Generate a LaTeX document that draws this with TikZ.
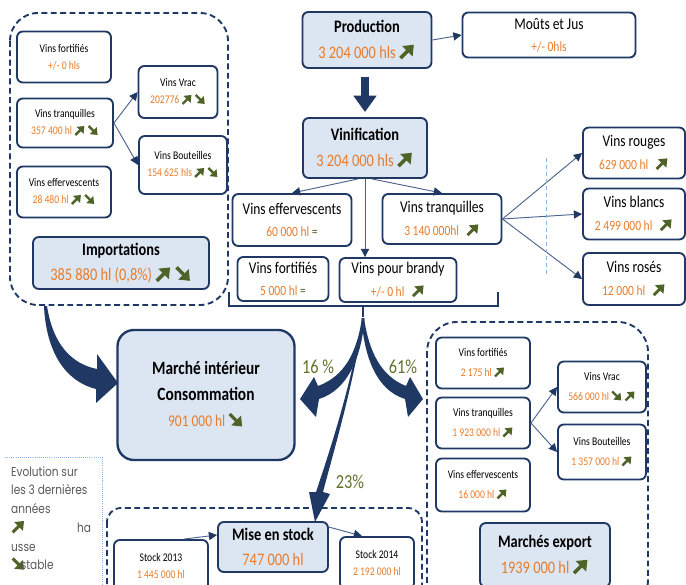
\documentclass[tikz,border=0pt]{standalone}
\usepackage{fontspec}
\setmainfont{Carlito}[FakeStretch=0.82]
\newfontfamily\legendfont{Poppins}[FakeStretch=0.82]
\usetikzlibrary{arrows.meta}
\definecolor{navy}{RGB}{31,56,100}
\definecolor{paleblue}{RGB}{220,230,242}
\definecolor{volorange}{RGB}{232,124,42}
\definecolor{upgreen}{RGB}{79,98,40}
\definecolor{pctgreen}{RGB}{95,115,45}
\definecolor{linkblue}{RGB}{75,100,140}
\definecolor{dotblue}{RGB}{140,180,225}
\definecolor{legendgray}{RGB}{89,89,89}
\newlength{\pxunit}\setlength{\pxunit}{0.03cm}
\newcommand{\vol}[1]{\textcolor{volorange}{#1}}
\newcommand{\hausse}{\tikz[baseline=0pt]\draw[upgreen, line width=0.42ex, -{Triangle[length=1.1ex,width=1.7ex]}] (0,0) -- (1.6ex,1.6ex);}
\newcommand{\baisse}{\tikz[baseline=0pt]\draw[upgreen, line width=0.42ex, -{Triangle[length=1.1ex,width=1.7ex]}] (0,1.6ex) -- (1.6ex,0);}
\newcommand{\egal}{\textcolor{upgreen}{=}}
\newcommand{\petit}{\fontsize{12}{14}\selectfont}

\begin{document}
\begin{tikzpicture}[x=0.03cm, y=-0.03cm,
    box/.style={draw=navy, line width=1.6pt, rounded corners=5pt, fill=white, align=center, inner sep=0pt},
    keybox/.style={box, fill=paleblue},
    dims/.style 2 args={minimum width=#1\pxunit, minimum height=#2\pxunit},
    small/.style={font=\fontsize{10}{14.5}\selectfont},
    mid/.style={font=\fontsize{14}{19}\selectfont},
    big/.style={font=\fontsize{15}{22}\selectfont},
    link/.style={draw=linkblue, line width=0.8pt, -{Triangle[length=7pt,width=7pt,color=navy]}},
    zone/.style={draw=navy, line width=1.6pt, dash pattern=on 5pt off 3pt},
    pct/.style={text=pctgreen, font=\fontsize{17}{17}\selectfont}]
  \useasboundingbox (0,0) rectangle (686,585);

  % importations
  \draw[zone, rounded corners=28\pxunit] (10,13) rectangle (228,305);
  \node[box, small, dims={94}{51}] (lfort) at (64,57) {Vins fortifiés\\\vol{+/- 0 hls}};
  \node[box, small, dims={96}{49}] (ltranq) at (65,123) {Vins tranquilles\\\vol{357 400 hl} \hausse\,\baisse};
  \node[box, small, dims={94}{51}] (leff) at (64,192) {Vins effervescents\\\vol{28 480 hl} \hausse\,\baisse};
  \node[box, small, dims={79}{52}] (lvrac) at (178,92) {Vins Vrac\\\vol{202776}\,\hausse\,\baisse};
  \node[box, small, dims={88}{58}] (lbout) at (183,165) {Vins Bouteilles\\\vol{154 625 hls}\,\hausse\,\baisse};
  \node[keybox, big, dims={176}{52}] (import) at (121,263) {\textbf{Importations}\\\vol{385 880 hl (0,8\%)}\,\hausse\,\baisse};
  \draw[link] (ltranq.east) -- (lvrac.west);
  \draw[link] (ltranq.east) -- (lbout.west);

  % production, vinification
  \node[keybox, big, dims={129}{56}] (prod) at (367,40) {\textbf{Production}\\\vol{3 204 000 hls}\,\hausse};
  \node[box, mid, dims={173}{45}] (mouts) at (549,35) {Moûts et Jus\\{\petit\vol{+/- 0hls}}};
  \draw[link] (prod.east) -- (mouts.west);
  \node[keybox, big, dims={124}{60}] (vinif) at (365,148) {\textbf{Vinification}\\\vol{3 204 000 hls}\,\hausse};
  \draw[navy, line width=7pt, -{Triangle[length=14pt,width=19pt]}] ([shift={(-2,8)}]prod.south) -- ([shift={(0,-5)}]vinif.north);

  \node[box, mid, dims={119}{52}] (effmid) at (292,220) {Vins effervescents\\{\petit\vol{60 000 hl} \egal}};
  \node[box, mid, dims={119}{50}] (tranqmid) at (442,219) {Vins tranquilles\\{\petit\vol{3 140 000hl}\enspace\hausse}};
  \node[box, mid, dims={91}{44}] (fortmid) at (283,279) {Vins fortifiés\\{\petit\vol{5 000 hl} \egal}};
  \node[box, mid, dims={117}{44}] (brandy) at (398,280) {Vins pour brandy\\{\petit\vol{+/- 0 hl}\enspace\hausse}};
  \draw[link] ([shift={(-7,0)}]vinif.south) -- (effmid.north);
  \draw[link] ([shift={(7,0)}]vinif.south) -- (tranqmid.north);
  \draw[link] (vinif.south) -- (vinif.south |- brandy.north);

  \node[box, mid, dims={102}{51}] (rouges) at (634,153) {Vins rouges\\{\petit\vol{629 000 hl}\enspace\hausse}};
  \node[box, mid, dims={102}{51}] (blancs) at (634,214) {Vins blancs\\{\petit\vol{2 499 000 hl}\enspace\hausse}};
  \node[box, mid, dims={102}{52}] (roses) at (634,279) {Vins rosés\\{\petit\vol{12 000 hl}\enspace\hausse}};
  \draw[link] (tranqmid.east) -- (rouges.west);
  \draw[link] (tranqmid.east) -- (blancs.west);
  \draw[link] (tranqmid.east) -- (roses.west);
  \draw[dotblue, dashed, line width=0.6pt] (546,158) -- (546,274);

  % split
  \coordinate (brk) at (363,306);
  \coordinate (split) at (363,317);
  \draw[navy, line width=1pt] (229,292) |- (brk) -| (498,292);
  \draw[navy, line width=1pt] (brk) -- (split);

  % marche interieur
  \node[keybox, dims={177}{130}, rounded corners=14pt, line width=2pt, font=\fontsize{16}{22}\selectfont] (inner) at (206,395)
    {\textbf{Marché intérieur}\\\textbf{Consommation}\\{\fontsize{14}{14}\selectfont\vol{901 000 hl}\,\baisse}};
  \fill[navy] (47,306) .. controls (53,345) and (72,364) .. (97,369) -- (97,354) -- (118,383) -- (96,403)
    -- (96,389) .. controls (64,381) and (46,350) .. (44,306) -- cycle;
  \fill[navy] (362,318) .. controls (357,352) and (345,376) .. (318,386) -- (314,377) -- (300,399) -- (316,417)
    -- (319,399) .. controls (348,390) and (362,356) .. (364.5,318) -- cycle;
  \fill[navy] (364,318) .. controls (369,352) and (381,376) .. (406,386) -- (410,377) -- (423,399) -- (408,417)
    -- (405,399) .. controls (376,390) and (364,356) .. (361.5,318) -- cycle;
  \fill[navy] (362.5,318) .. controls (350,390) and (330,450) .. (316,492) -- (309,492) -- (315,522) -- (330,494)
    -- (323,492) .. controls (334,450) and (352,390) .. (364,318) -- cycle;
  \node[pct] (p16) at (318,367) {16 \%};
  \node[pct] (p61) at (403,367) {61\%};
  \node[pct] (p23) at (350,482) {23\%};

  % stock
  \draw[zone, rounded corners=14\pxunit] (107,508) rectangle (422,610);
  \node[box, small, dims={94}{52}] (stock13) at (161,566) {Stock 2013\\\vol{1 445 000 hl}};
  \node[keybox, big, dims={110}{50}] (mise) at (273,547) {\textbf{Mise en stock}\\\vol{747 000 hl}};
  \node[box, small, dims={74}{52}] (stock14) at (377,563) {Stock 2014\\\vol{2 192 000 hl}};
  \draw[link] ([shift={(-25,0)}]stock13.north east) -- ([shift={(0,-12)}]mise.west);
  \draw[link] ([shift={(0,6)}]mise.north east) -- ([shift={(-15,0)}]stock14.north);

  % export
  \draw[zone, rounded corners=30\pxunit] (427,322) rectangle (648,610);
  \node[box, small, dims={94}{51}, font=\fontsize{10}{17}\selectfont] (efort) at (483,363) {Vins fortifiés\\\vol{2 175 hl}\,\hausse};
  \node[box, small, dims={94}{51}, font=\fontsize{10}{17}\selectfont] (etranq) at (483,423) {Vins tranquilles\\\vol{1 923 000 hl}\,\hausse};
  \node[box, small, dims={94}{53}, font=\fontsize{10}{17}\selectfont] (eeff) at (483,485) {Vins effervescents\\\vol{16 000 hl}\,\hausse};
  \node[box, small, dims={88}{51}, font=\fontsize{10}{17}\selectfont] (evrac) at (602,387) {Vins Vrac\\\vol{566 000 hl}\,\baisse\,\hausse};
  \node[box, small, dims={88}{55}, font=\fontsize{10}{17}\selectfont] (ebout) at (602,452) {Vins Bouteilles\\\vol{1 357 000 hl}\,\hausse};
  \node[keybox, big, dims={130}{64}] (export) at (545,555) {\textbf{Marchés export}\\\vol{1939 000 hl}\,\hausse};
  \draw[link] (etranq.east) -- (evrac.west);
  \draw[link] (etranq.east) -- (ebout.west);

  % legende
  \draw[dotblue, densely dotted, line width=0.8pt] (5,457) -| (102,600);
  \node[anchor=north west, align=left, inner sep=0pt, text=legendgray, font=\legendfont\fontsize{11}{16}\selectfont] (legend) at (11,466)
    {Evolution sur\\les 3 dernières\\années\\\hausse\hspace{44pt}ha\\usse\\\baisse\hspace{-4pt}stable};
\end{tikzpicture}
\end{document}
